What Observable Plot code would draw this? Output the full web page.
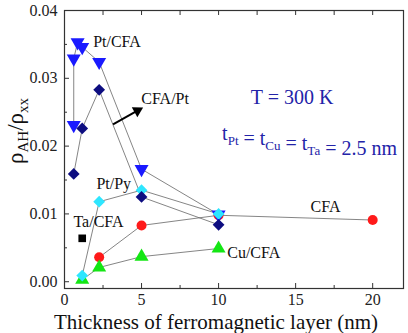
<!DOCTYPE html>
<html><head><meta charset="utf-8">
<script src="https://cdn.jsdelivr.net/npm/d3@7"></script>
<script src="https://cdn.jsdelivr.net/npm/@observablehq/plot@0.6"></script>
<style>
body{margin:0;background:#fff}
figure{margin:0;width:408px}
figcaption{font-family:"Liberation Serif";font-size:21px;line-height:20px;height:21px;color:#111;text-align:center;padding-left:24px;box-sizing:border-box;width:408px;margin:0}
</style>
</head><body><div id="chart"></div>
<script>
// Pt/CFA (blue down-triangles)
const ptCfaX = [0.6, 0.6, 0.85, 1.15, 2.25, 5, 10];
const ptCfaY = [0.0231, 0.0329, 0.0353, 0.0346, 0.0324, 0.0166, 0.0099];
// CFA/Pt (navy diamonds)
const cfaPtX = [0.6, 1.15, 2.25, 5, 10];
const cfaPtY = [0.0159, 0.0226, 0.0283, 0.0125, 0.0084];
// Pt/Py (cyan diamonds)
const ptPyX = [1.15, 2.25, 5, 10];
const ptPyY = [0.0009, 0.0118, 0.0135, 0.0100];
// CFA (red circles)
const cfaX = [2.25, 5, 10, 20];
const cfaY = [0.0036, 0.0083, 0.0098, 0.0091];
// Cu/CFA (green triangles)
const cuCfaX = [1.15, 2.25, 5, 10];
const cuCfaY = [0.0003, 0.0021, 0.0037, 0.0049];
// Ta/CFA (black square)
const taCfaX = [1.15];
const taCfaY = [0.0064];

const xTicks = [0, 5, 10, 15, 20];
const xMinor = [2.5, 7.5, 12.5, 17.5];
const yTicks = [0, 0.01, 0.02, 0.03, 0.04];
const yMinor = [0.005, 0.015, 0.025, 0.035];

const labels = [
  {text: "Pt/CFA", x: 1.86, y: 0.0353},
  {text: "CFA/Pt", x: 4.98, y: 0.0270},
  {text: "Pt/Py", x: 2.07, y: 0.0145},
  {text: "Ta/CFA", x: 0.58, y: 0.0088},
  {text: "CFA", x: 15.97, y: 0.0111},
  {text: "Cu/CFA", x: 10.56, y: 0.0043}
];
// annotation arrow (data coordinates)
const arrowFrom = {x: 3.15, y: 0.0232};
const arrowTo = {x: 5.1, y: 0.0257};

const pts = (xs, ys) => xs.map((x, i) => ({x, y: ys[i]}));
const sPtCfa = pts(ptCfaX, ptCfaY), sCfaPt = pts(cfaPtX, cfaPtY), sPtPy = pts(ptPyX, ptPyY),
      sCfa = pts(cfaX, cfaY), sCu = pts(cuCfaX, cuCfaY), sTa = pts(taCfaX, taCfaY);

const FONT = "Liberation Serif";
const W = 408, H = 312, mL = 64, mR = 5, mT = 10, mB = 24;
const innerW = W - mL - mR, innerH = H - mT - mB;
const xDom = [0, 22], yDom = [-0.001, 0.04];
const lineStyle = {x: "x", y: "y", stroke: "#666", strokeWidth: 0.8};
const tickCol = "#333";

// arrow head orientation from the linear scale factors
const kx = innerW / (xDom[1] - xDom[0]), ky = innerH / (yDom[1] - yDom[0]);
const adx = (arrowTo.x - arrowFrom.x) * kx, ady = -(arrowTo.y - arrowFrom.y) * ky;
const alen = Math.hypot(adx, ady), ux = adx / alen, uy = ady / alen;
const headR = 4.2, headBack = 6.5;
const headC = {x: arrowTo.x - headBack * ux / kx, y: arrowTo.y + headBack * uy / ky};
const shaftEnd = {x: arrowTo.x - 8 * ux / kx, y: arrowTo.y + 8 * uy / ky};
const headRot = Math.atan2(ady, adx) * 180 / Math.PI + 90;

const plot = Plot.plot({
  width: W, height: H,
  marginLeft: mL, marginRight: mR, marginTop: mT, marginBottom: mB,
  style: {fontFamily: FONT, fontSize: "16px", background: "#fff"},
  caption: "Thickness of ferromagnetic layer (nm)",
  x: {domain: xDom},
  y: {domain: yDom},
  marks: [
    Plot.line(sPtCfa, lineStyle),
    Plot.line(sCfaPt, lineStyle),
    Plot.line(sPtPy, lineStyle),
    Plot.line(sCfa, lineStyle),
    Plot.line(sCu, lineStyle),
    Plot.dot(sCfa, {x: "x", y: "y", r: 5, fill: "#ff1a1a", symbol: "circle"}),
    Plot.dot(sCu, {x: "x", y: "y", r: 5.2, fill: "#14e614", symbol: "triangle"}),
    Plot.dot(sTa, {x: "x", y: "y", r: 4.3, fill: "#000", symbol: "square"}),
    Plot.dot(sPtCfa, {x: "x", y: "y", r: 5.2, fill: "#1a1aff", symbol: "triangle", rotate: 180}),
    Plot.dot(sPtPy, {x: "x", y: "y", r: 5.3, fill: "#2ee6ff", symbol: "diamond2"}),
    Plot.dot(sCfaPt, {x: "x", y: "y", r: 5.3, fill: "#0d0d80", symbol: "diamond2"}),
    Plot.link([{x1: arrowFrom.x, y1: arrowFrom.y, x2: shaftEnd.x, y2: shaftEnd.y}], {x1: "x1", y1: "y1", x2: "x2", y2: "y2", stroke: "#000", strokeWidth: 2}),
    Plot.dot([headC], {x: "x", y: "y", r: headR, fill: "#000", symbol: "triangle", rotate: headRot}),
    Plot.text(labels, {x: "x", y: "y", text: "text", textAnchor: "start", fontSize: 16, fill: "#111"}),
    Plot.text(["T = 300 K"], {x: 14.77, y: 0.0271, text: d => d, fontSize: 20, fill: "#2323a8"}),
    Plot.frame({stroke: tickCol, strokeWidth: 1.2}),
    Plot.tickX(xTicks, {x: d => d, stroke: tickCol, insetTop: innerH - 5}),
    Plot.tickX(xMinor, {x: d => d, stroke: tickCol, insetTop: innerH - 3}),
    Plot.tickX(xTicks, {x: d => d, stroke: tickCol, insetBottom: innerH - 5}),
    Plot.tickX(xMinor, {x: d => d, stroke: tickCol, insetBottom: innerH - 5}),
    Plot.tickY(yTicks, {y: d => d, stroke: tickCol, insetRight: innerW - 5}),
    Plot.tickY(yMinor, {y: d => d, stroke: tickCol, insetRight: innerW - 3}),
    Plot.axisX({ticks: xTicks, tickSize: 0, tickPadding: 5, label: null, fontSize: 16, color: "#222"}),
    Plot.axisY({ticks: yTicks, tickSize: 0, tickPadding: 7, label: null, fontSize: 16, tickFormat: d3.format(".2f"), color: "#222"})
  ]
});
document.getElementById("chart").appendChild(plot);

const svg = d3.select(plot.tagName.toLowerCase() === "svg" ? plot : plot.querySelector("svg"));
const sx = plot.scale("x"), sy = plot.scale("y");
// y-axis title with subscripts
const yl = svg.append("text").attr("transform", "translate(23,131) rotate(-90)")
  .attr("text-anchor", "middle").attr("font-size", 23).attr("fill", "#111").attr("font-family", FONT);
yl.append("tspan").text("ρ");
yl.append("tspan").attr("dy", 5).attr("font-size", 15).text("AH");
yl.append("tspan").attr("dy", -5).text("/ρ");
yl.append("tspan").attr("dy", 5).attr("font-size", 15).text("xx");
// thickness annotation with subscripts
const tl = svg.append("text").attr("x", sx.apply(10.26)).attr("y", sy.apply(0.0208))
  .attr("font-size", 20).attr("fill", "#2323a8").attr("font-family", FONT).attr("text-anchor", "start");
const parts = [["t", "Pt"], [" = t", "Cu"], [" = t", "Ta"]];
parts.forEach(([m, s]) => {
  tl.append("tspan").text(m);
  tl.append("tspan").attr("dy", 5).attr("font-size", 13).text(s);
  tl.append("tspan").attr("dy", -5).attr("font-size", 13).text("");
});
tl.append("tspan").text(" = 2.5 nm");
</script></body></html>
